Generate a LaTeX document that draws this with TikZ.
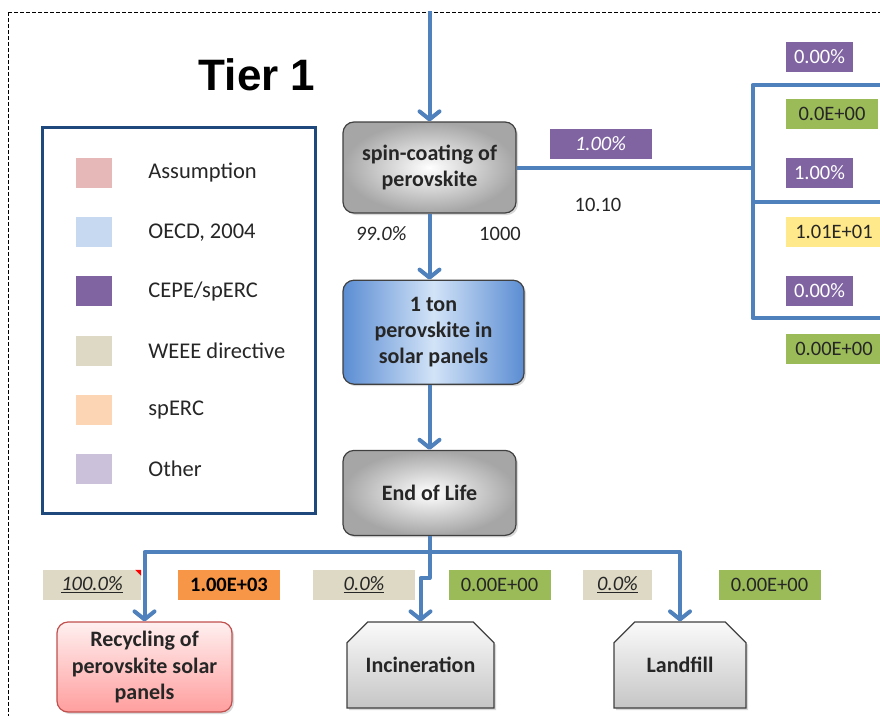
\documentclass[tikz,border=0pt]{standalone}
\usepackage{fontspec}
\setmainfont{Carlito}
\newfontfamily\tierfont{Liberation Sans}
\usetikzlibrary{arrows.meta, positioning, shapes.misc, shadows}

\definecolor{flowblue}{HTML}{4F81BD}
\definecolor{legblue}{HTML}{1F497D}
\definecolor{tagpurple}{HTML}{8064A2}
\definecolor{taggreen}{HTML}{9BBB59}
\definecolor{tagyellow}{HTML}{FFE98A}
\definecolor{tagorange}{HTML}{F79646}
\definecolor{tagbeige}{HTML}{DDD9C4}
\definecolor{legpink}{HTML}{E6B9B8}
\definecolor{leglightblue}{HTML}{C6D9F1}
\definecolor{legpeach}{HTML}{FCD5B5}
\definecolor{leglilac}{HTML}{CCC1DA}
\definecolor{tonblue}{HTML}{5B8DD3}
\definecolor{tonlight}{HTML}{D2E3F7}
\definecolor{recycborder}{HTML}{C0504D}
\definecolor{darktext}{HTML}{262626}

\begin{document}
\begin{tikzpicture}[
    x=1pt, y=-1pt,
    flowline/.style={line width=4pt, draw=flowblue, line join=round},
    flow/.style={flowline, -{Straight Barb[length=8pt, width=20pt, round]}},
    procbox/.style={rectangle, draw=black!75, line width=1.2pt,
                    rounded corners=11pt, align=center, inner sep=2pt,
                    font=\fontsize{22}{26}\selectfont\bfseries, text=darktext,
                    drop shadow={shadow xshift=2pt, shadow yshift=-2pt, opacity=0.3}},
    graybox/.style={procbox, inner color=white, outer color=gray!70},
    sinkbox/.style={procbox, chamfered rectangle,
                    chamfered rectangle corners={north west, north east},
                    chamfered rectangle sep=11pt, rounded corners=0pt,
                    top color=gray!4, bottom color=gray!45},
    tag/.style={rectangle, minimum width=102pt, minimum height=30pt, inner sep=0pt,
                font=\fontsize{20.5}{24}\selectfont, text=darktext},
    plain/.style={font=\fontsize{20.5}{24}\selectfont, text=darktext, inner sep=1pt},
    swatch/.style={rectangle, minimum width=36pt, minimum height=30pt, inner sep=0pt},
    legtext/.style={font=\fontsize{22.5}{26}\selectfont, text=darktext, inner sep=3pt}
]
\useasboundingbox (0,0) rectangle (880,715);
\clip (0,0) rectangle (880,715);

%% --- FRAME ---
\draw[black, line width=1pt, dash pattern=on 4pt off 2pt] (8,12) rectangle (900,730);

\node[font={\tierfont\bfseries\fontsize{44}{50}\selectfont}] (tier) at (257,75) {Tier 1};

%% --- MAIN COLUMN ---
\node[graybox, minimum width=173pt, minimum height=91pt] (spin) at (429.5,167.5)
    {spin-coating of\\perovskite};
\node[procbox, left color=tonblue, right color=tonblue, middle color=tonlight,
      minimum width=181pt, minimum height=104pt, below=66pt of spin, xshift=4pt] (ton)
    {1 ton\\perovskite in\\solar panels};
\node[graybox, minimum width=173pt, minimum height=85pt, below=65pt of spin |- ton.south] (eol)
    {End of Life};

%% --- END OF LIFE ROUTES ---
\node[procbox, top color=red!6, bottom color=red!38, draw=recycborder,
      minimum width=175pt, minimum height=90pt] (recyc) at (144.5,667)
    {Recycling of\\perovskite solar\\panels};
\node[sinkbox, minimum width=147pt, minimum height=86pt] (incin) at (420.5,665)
    {Incineration};
\node[sinkbox, minimum width=132pt, minimum height=86pt] (land) at (680,665)
    {Landfill};

%% --- FLOW LABELS ---
\node[tag, fill=tagpurple, text=white, font=\fontsize{20.5}{24}\selectfont\itshape]
    (emisfrac) at (600.5,143.5) {1.00\%};
\node[plain] (emisval) at (598,205) {10.10};
\node[plain, font=\fontsize{20.5}{24}\selectfont\itshape] (keepfrac) at (381,234) {99.0\%};
\node[plain] (keepval) at (500,234) {1000};

\node[tag, fill=tagbeige, minimum width=98pt, font=\fontsize{20.5}{24}\selectfont\itshape]
    (recfrac) at (92,585) {\underline{100.0\%}};
\node[tag, fill=tagorange, font=\fontsize{20.5}{24}\selectfont\bfseries, text=black]
    (recval) at (229,585) {1.00E+03};
\node[tag, fill=tagbeige, font=\fontsize{20.5}{24}\selectfont\itshape]
    (incfrac) at (364,585) {\underline{0.0\%}};
\node[tag, fill=taggreen] (incval) at (499.5,585) {0.00E+00};
\node[tag, fill=tagbeige, minimum width=69pt, font=\fontsize{20.5}{24}\selectfont\itshape]
    (landfrac) at (617.5,585) {\underline{0.0\%}};
\node[tag, fill=taggreen] (landval) at (769.5,585) {0.00E+00};
\fill[red] (recfrac.north east) ++(-6,0) -- ++(6,0) -- ++(0,6) -- cycle;

%% --- RIGHT SIDE (air / water / soil) ---
\node[tag, fill=tagpurple, text=white, minimum width=67pt] (airfrac)   at (819.5,56.5)  {0.00\%};
\node[tag, fill=taggreen, minimum width=92pt]              (airval)    at (832,114)     {0.0E+00};
\node[tag, fill=tagpurple, text=white, minimum width=67pt] (waterfrac) at (819.5,173)   {1.00\%};
\node[tag, fill=tagyellow, minimum width=96pt]             (waterval)  at (834,232)     {1.01E+01};
\node[tag, fill=tagpurple, text=white, minimum width=67pt] (soilfrac)  at (819.5,291)   {0.00\%};
\node[tag, fill=taggreen, minimum width=96pt]              (soilval)   at (834,349)     {0.00E+00};

%% --- LEGEND ---
\node[draw=legblue, line width=3pt, minimum width=273pt, minimum height=386pt]
    (legend) at (178.5,320) {};
\node[swatch, fill=legpink] (swA) at (94,173) {};
\node[swatch, fill=leglightblue, below=28.8pt of swA] (swB) {};
\node[swatch, fill=tagpurple,    below=28.8pt of swB] (swC) {};
\node[swatch, fill=tagbeige,     below=28.8pt of swC] (swD) {};
\node[swatch, fill=legpeach,     below=28.8pt of swD] (swE) {};
\node[swatch, fill=leglilac,     below=28.8pt of swE] (swF) {};
\node[legtext, right=33pt of swA] {Assumption};
\node[legtext, right=33pt of swB] {OECD, 2004};
\node[legtext, right=33pt of swC] {CEPE/spERC};
\node[legtext, right=33pt of swD] {WEEE directive};
\node[legtext, right=33pt of swE] {spERC};
\node[legtext, right=33pt of swF] {Other};

%% --- ARROWS: main column ---
\coordinate[above=110pt of spin] (src);
\draw[flow] (src) -- (spin);
\draw[flow] (spin) -- (spin.south |- ton.north);
\draw[flow] (ton.south -| spin) -- (eol);

%% --- ARROWS: end of life split ---
\coordinate[below=16pt of eol] (split);
\draw[flowline] (eol) -- (split);
\draw[flow] (split) -| (recyc.north);
\draw[flow] (split) -| (land.north);
\draw[flow] (split) -- ++(0,26) -| (incin.north);

%% --- LINES: emissions to the right ---
\coordinate[right=236pt of spin] (bus);
\coordinate (airout)   at (900,85);
\coordinate (waterout) at (900,202);
\coordinate (soilout)  at (900,318);
\draw[flowline] (spin) -- (bus);
\draw[flowline] (airout) -| (bus) |- (soilout);
\draw[flowline] (bus |- waterout) -- (waterout);

\end{tikzpicture}
\end{document}
